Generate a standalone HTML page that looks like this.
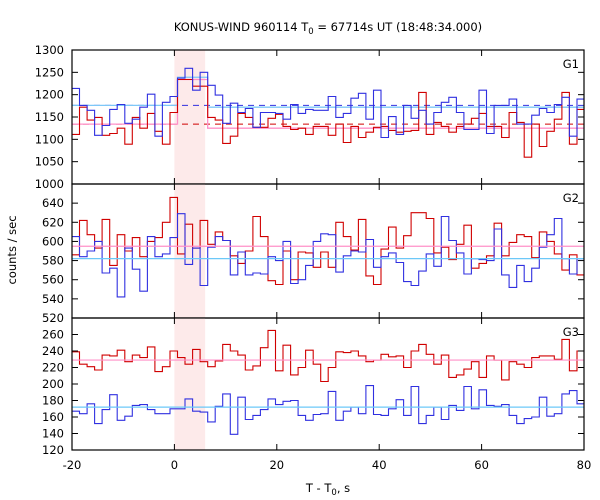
<!DOCTYPE html>
<html><head><meta charset="utf-8"><style>
body{margin:0;background:#fff;}
svg{display:block;font-family:"DejaVu Sans","Liberation Sans",sans-serif;}
</style></head><body>
<svg id="chart" width="600" height="500" viewBox="0 0 600 500" xmlns="http://www.w3.org/2000/svg">
<text x="328" y="31" font-size="11.5" text-anchor="middle">KONUS-WIND 960114 T<tspan font-size="8.5" dy="3">0</tspan><tspan dy="-3"> = 67714s UT (18:48:34.000)</tspan></text>
<text x="16" y="250" font-size="11.5" text-anchor="middle" transform="rotate(-90 16 250)">counts / sec</text>
<text x="328" y="492" font-size="11.5" text-anchor="middle">T - T<tspan font-size="8.5" dy="3">0</tspan><tspan dy="-3">, s</tspan></text>
<g id="plots"></g>
</svg>
<script>
const binStart = -20, binWidth = 1.472;
const xTicks = [-20, 0, 20, 40, 60, 80];
const burstStart = 0, burstEnd = 6;
const g1Ticks = [1000,1050,1100,1150,1200,1250,1300];
const g2Ticks = [520,540,560,580,600,620,640];
const g3Ticks = [120,140,160,180,200,220,240,260];
const g1Red = [1111,1172,1143,1149,1109,1113,1125,1089,1149,1125,1158,1118,1089,1160,1234,1234,1219,1219,1149,1143,1091,1107,1158,1149,1127,1127,1147,1156,1129,1122,1125,1111,1129,1129,1109,1134,1093,1129,1104,1116,1127,1129,1120,1116,1118,1120,1205,1111,1138,1129,1116,1129,1134,1147,1158,1129,1129,1104,1160,1138,1060,1134,1084,1118,1145,1205,1089,1167];
const g1Blue = [1214,1176,1165,1109,1131,1167,1178,1136,1145,1172,1201,1107,1183,1196,1237,1259,1210,1250,1221,1199,1136,1181,1160,1169,1127,1160,1160,1158,1145,1178,1158,1167,1165,1165,1196,1149,1158,1192,1203,1145,1210,1104,1151,1111,1176,1147,1165,1134,1160,1183,1194,1160,1122,1122,1210,1113,1176,1176,1190,1134,1134,1154,1169,1160,1178,1194,1107,1190];
const g2Red = [586,622,607,593,623,575,607,590,604,584,600,604,620,646,587,618,593,622,597,610,601,585,577,590,626,605,559,555,590,560,589,588,573,589,573,620,605,591,623,564,555,592,615,593,606,630,630,624,588,594,581,597,617,572,577,585,619,585,599,607,605,583,610,600,587,570,586,565];
const g2Blue = [605,584,590,600,567,572,542,593,571,548,605,584,587,604,629,576,593,554,594,605,601,565,589,565,567,566,584,580,600,556,560,575,600,608,607,568,585,590,589,602,573,584,588,578,558,554,569,587,574,626,601,588,566,582,581,580,613,565,552,575,558,572,594,607,624,582,566,582];
const g3Red = [239,224,221,217,235,234,241,227,235,232,245,215,221,240,232,224,242,227,221,228,248,240,235,217,222,244,265,216,247,211,220,241,224,203,220,239,238,240,234,227,229,236,233,234,220,240,248,236,224,235,208,211,218,227,208,234,229,205,227,224,220,232,234,234,230,254,216,240];
const g3Blue = [167,164,176,152,169,187,156,161,174,175,169,164,164,170,170,182,167,166,154,173,188,139,184,157,162,169,182,175,179,180,162,156,163,164,191,156,167,172,164,198,163,162,170,181,162,197,152,162,172,157,174,168,197,170,193,174,173,175,162,152,158,160,184,161,164,188,192,176];
// mean levels: [pre-burst, burst, post-burst]
const g1RedMean = [1134,1234,1125];
const g1BlueMean = [1176,1239,1172];
const g1RedDash = 1134, g1BlueDash = 1176;
const g2RedMean = 595, g2BlueMean = 582;
const g3RedMean = 229, g3BlueMean = 172;

const NS = "http://www.w3.org/2000/svg";
const L = 72, R = 584;
const xs = t => L + (t + 20) / 100 * (R - L);
const root = document.getElementById('plots');
function mk(tag, attrs, parent){ const e=document.createElementNS(NS,tag); for(const k in attrs) e.setAttribute(k,attrs[k]); (parent||root).appendChild(e); return e; }

const panels = [
 {name:'g1', label:'G1', top:50, bot:184, min:1000, max:1300, ticks:g1Ticks, red:g1Red, blue:g1Blue},
 {name:'g2', label:'G2', top:184, bot:318, min:520, max:660, ticks:g2Ticks, red:g2Red, blue:g2Blue},
 {name:'g3', label:'G3', top:318, bot:450, min:120, max:280, ticks:g3Ticks, red:g3Red, blue:g3Blue}
];

function stepPath(vals, ys){
  let d='';
  vals.forEach((v,i)=>{
    const a = binStart + i*binWidth, b = Math.min(binStart+(i+1)*binWidth, 80);
    const y = ys(v).toFixed(1);
    d += (i===0 ? 'M' : 'L') + xs(a).toFixed(1)+','+y+' L'+xs(b).toFixed(1)+','+y+' ';
  });
  return d;
}

panels.forEach((p,pi)=>{
  const ys = v => p.bot - (v - p.min)/(p.max - p.min)*(p.bot - p.top);
  const g = mk('g',{});
  
  
  const sh = mk('rect',{x:xs(burstStart),y:p.top,width:xs(burstEnd)-xs(burstStart),height:p.bot-p.top,fill:'#fdeaea'},g);
  
  
  if(pi===0){
    const dr = mk('line',{x1:L,x2:R,y1:ys(g1RedDash),y2:ys(g1RedDash),stroke:'#d00000','stroke-width':1,'stroke-dasharray':'6,5'},g);
    
    
    const db = mk('line',{x1:L,x2:R,y1:ys(g1BlueDash),y2:ys(g1BlueDash),stroke:'#3030e0','stroke-width':1,'stroke-dasharray':'6,5'},g);
    
    
    const b1 = binStart+14*binWidth, b2 = binStart+18*binWidth;
    [[g1BlueMean,'#7ec8f8','g1-blue-model'],[g1RedMean,'#ff90c8','g1-red-model']].forEach(([m,c,n])=>{
      const d = `M${L},${ys(m[0])} L${xs(b1)},${ys(m[0])} L${xs(b1)},${ys(m[1])} L${xs(b2)},${ys(m[1])} L${xs(b2)},${ys(m[2])} L${R},${ys(m[2])}`;
      const e = mk('path',{d:d,fill:'none',stroke:c,'stroke-width':1.3},g);
      
      
    });
  }
  const rp = mk('path',{d:stepPath(p.red,ys),fill:'none',stroke:'#d00000','stroke-width':1.1},g);
  
  
  const bp = mk('path',{d:stepPath(p.blue,ys),fill:'none',stroke:'#3030e0','stroke-width':1.1},g);
  
  
  if(pi>0){
    const rm = pi===1?g2RedMean:g3RedMean, bm = pi===1?g2BlueMean:g3BlueMean;
    const a = mk('line',{x1:L,x2:R,y1:ys(rm),y2:ys(rm),stroke:'#ff90c8','stroke-width':1.2},g);
    
    
    const b = mk('line',{x1:L,x2:R,y1:ys(bm),y2:ys(bm),stroke:'#6cc8f8','stroke-width':1.2},g);
    
    
  }
  const fr = mk('rect',{x:L,y:p.top,width:R-L,height:p.bot-p.top,fill:'none',stroke:'#000','stroke-width':1.2},g);
  
  
  p.ticks.forEach(v=>{
    const y = ys(v);
    mk('line',{x1:L,x2:L+6,y1:y,y2:y,stroke:'#000'},g);
    mk('line',{x1:R,x2:R-6,y1:y,y2:y,stroke:'#000'},g);
    const t = mk('text',{x:L-8,y:y+4,'font-size':11.5,'text-anchor':'end'},g);
    t.textContent = v;
    
    
  });
  xTicks.forEach(v=>{
    const x = xs(v);
    mk('line',{x1:x,x2:x,y1:p.bot,y2:p.bot-6,stroke:'#000'},g);
    mk('line',{x1:x,x2:x,y1:p.top,y2:p.top+6,stroke:'#000'},g);
  });
  const lb = mk('text',{x:R-5,y:p.top+18,'font-size':11.5,'text-anchor':'end'},g);
  lb.textContent = p.label;
  
  
});
xTicks.forEach(v=>{
  const t = mk('text',{x:xs(v),y:469,'font-size':11.5,'text-anchor':'middle'});
  t.textContent = v;
  
  
});
</script>
</body></html>
